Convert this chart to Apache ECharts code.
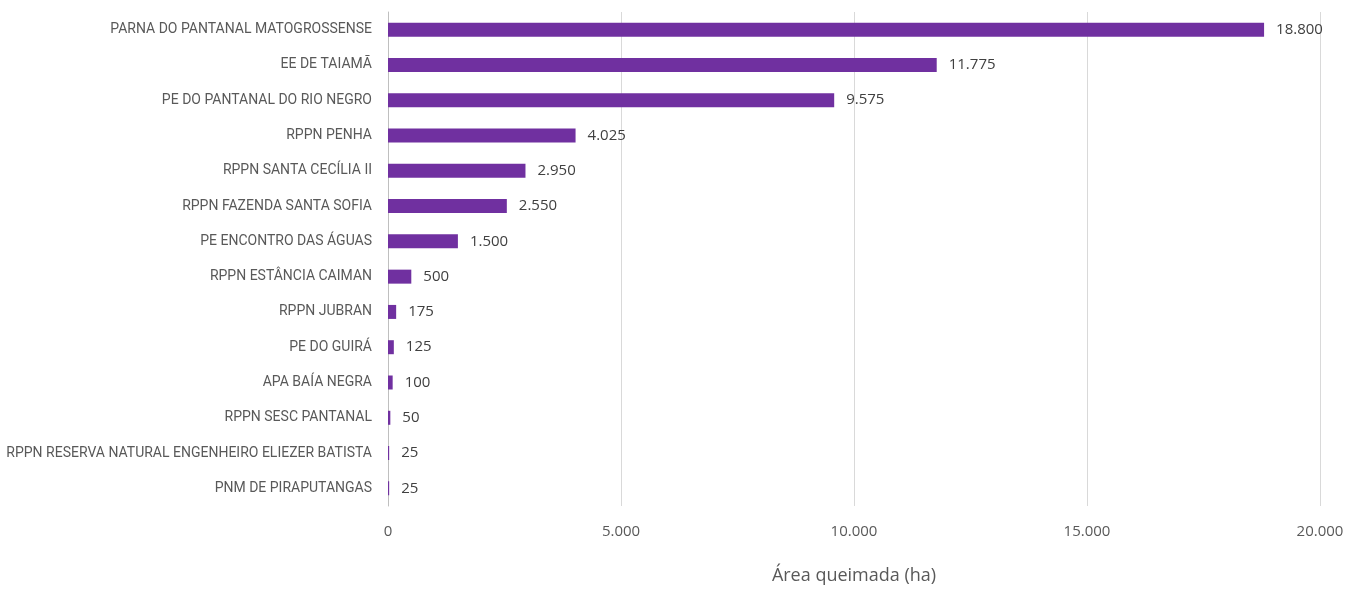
<!DOCTYPE html>
<html>
	<head>
		<meta charset="utf-8">
		<title></title>
		<script src="https://cdn.jsdelivr.net/npm/echarts@6/dist/echarts.min.js"></script>
		<style>
			html, body { margin: 0; padding: 0; background: #ffffff; }
			#main { width: 1351px; height: 592px; }
		</style>
	</head>
	<body>
		<div id="main"></div>
	</body>
	<script>
		// categories from top to bottom
		var categories = [
			"PARNA DO PANTANAL MATOGROSSENSE",
			"EE DE TAIAMÃ",
			"PE DO PANTANAL DO RIO NEGRO",
			"RPPN PENHA",
			"RPPN SANTA CECÍLIA II",
			"RPPN FAZENDA SANTA SOFIA",
			"PE ENCONTRO DAS ÁGUAS",
			"RPPN ESTÂNCIA CAIMAN",
			"RPPN JUBRAN",
			"PE DO GUIRÁ",
			"APA BAÍA NEGRA",
			"RPPN SESC PANTANAL",
			"RPPN RESERVA NATURAL ENGENHEIRO ELIEZER BATISTA",
			"PNM DE PIRAPUTANGAS"
		];
		var values = [18800, 11775, 9575, 4025, 2950, 2550, 1500, 500, 175, 125, 100, 50, 25, 25];
		var axisTicks = [0, 5000, 10000, 15000, 20000];
		var axisTitle = "Área queimada (ha)";

		function fmt(v) {
			return String(v).replace(/\B(?=(\d{3})+(?!\d))/g, ".");
		}

		let option = {
			animation: false,
			grid: { left: 388, right: 31, top: 12, bottom: 86, containLabel: false, outerBoundsMode: "none" },
			xAxis: {
				type: "value",
				min: axisTicks[0],
				max: axisTicks[axisTicks.length - 1],
				interval: 5000,
				name: axisTitle,
				nameLocation: "middle",
				nameGap: 61,
				nameTextStyle: { fontFamily: "Open Sans", fontSize: 18, color: "#595959" },
				axisLine: { show: false },
				axisTick: { show: false },
				axisLabel: { margin: 18, fontFamily: "Open Sans", fontSize: 15, color: "#595959", formatter: fmt },
				splitLine: { lineStyle: { color: "#d9d9d9", width: 1 } }
			},
			yAxis: {
				type: "category",
				inverse: true,
				data: categories,
				axisLine: { lineStyle: { color: "#bfbfbf" } },
				axisTick: { show: false },
				axisLabel: { margin: 16, fontFamily: "Roboto", fontSize: 14, color: "#595959" }
			},
			series: [{
				type: "bar",
				data: values,
				barWidth: 14,
				itemStyle: { color: "#7030a0" },
				label: {
					show: true,
					position: "right",
					distance: 12,
					fontFamily: "Open Sans",
					fontSize: 15,
					color: "#404040",
					formatter: function (p) { return fmt(p.value); }
				}
			}]
		};

		let echart = echarts.init(document.getElementById("main"));
		echart.setOption(option);
	</script>
</html>
